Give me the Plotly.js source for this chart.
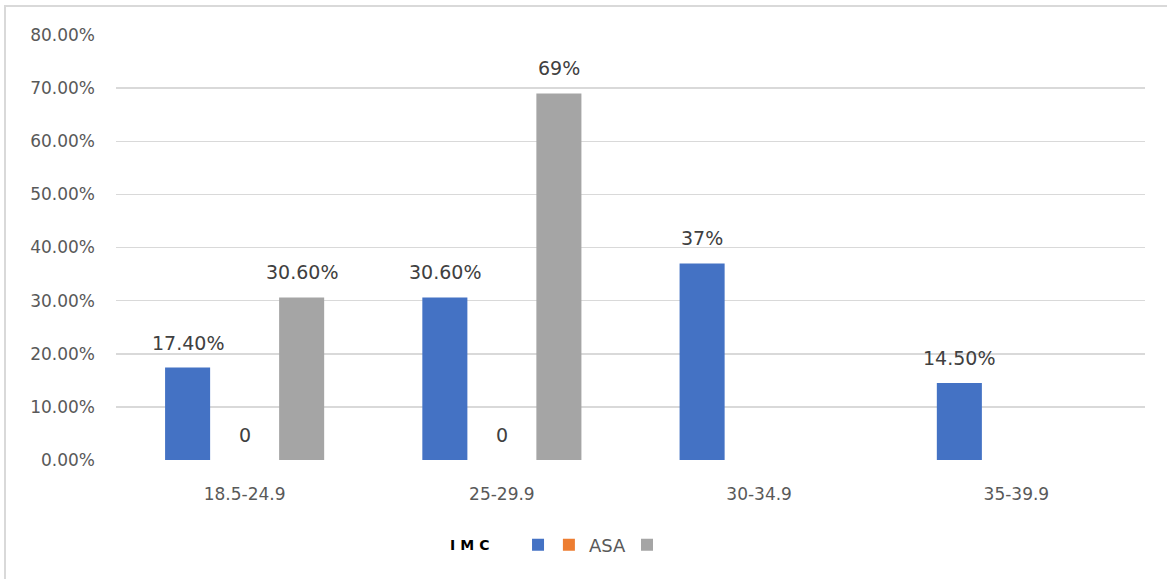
<!DOCTYPE html>
<html>
<head>
<meta charset="utf-8">
<script src="https://cdn.plot.ly/plotly-3.0.1.min.js"></script>
<style>
  html, body { margin: 0; padding: 0; background: #fff; }
  #wrap { position: relative; width: 1167px; height: 579px; }
  #chart { position: absolute; left: 0; top: 0; width: 1167px; height: 579px; }
  #frame { position: absolute; left: 4px; top: 5px; width: 1163px; height: 574px;
           border-left: 2px solid #d9d9d9; border-top: 2px solid #d9d9d9; box-sizing: border-box;
           pointer-events: none; }
</style>
</head>
<body>
<div id="wrap">
  <div id="chart"></div>
  <div id="frame"></div>
</div>
<script>
const categories = ["18.5-24.9", "25-29.9", "30-34.9", "35-39.9"];
const blueValues = [0.174, 0.306, 0.37, 0.145];
const blueLabels = ["17.40%", "30.60%", "37%", "14.50%"];
const asaValues = [0, 0, null, null];
const asaLabels = ["0", "0", "", ""];
const grayValues = [0.306, 0.69, null, null];
const grayLabels = ["30.60%", "69%", "", ""];
const yTicks = [0, 0.1, 0.2, 0.3, 0.4, 0.5, 0.6, 0.7, 0.8];
const legendTitle = "IMC";

const font = "'DejaVu Sans', sans-serif";
const labelFont = { family: font, size: 19, color: "#404040" };

const series = [
  { values: blueValues, labels: blueLabels, name: " ", color: "#4472c4", legend: "legend", shift: -57 },
  { values: asaValues, labels: asaLabels, name: "ASA", color: "#ed7d31", legend: "legend2", shift: 0 },
  { values: grayValues, labels: grayLabels, name: " ", color: "#a5a5a5", legend: "legend3", shift: 57 }
];

const traces = series.map(s => ({
  type: "bar", x: categories, y: s.values, name: s.name, legend: s.legend,
  marker: { color: s.color }, hoverinfo: "x+y"
}));

const annotations = [];
series.forEach(s => {
  s.values.forEach((v, i) => {
    if (v === null || v === undefined) return;
    annotations.push({
      x: categories[i], y: v, xref: "x", yref: "y", text: s.labels[i],
      showarrow: false, xanchor: "center", yanchor: "bottom",
      xshift: s.shift, yshift: 12, font: labelFont
    });
  });
});
annotations.push({
  x: 0.3455, y: -0.2, xref: "paper", yref: "paper",
  text: '<span style="letter-spacing:5px">' + legendTitle + '</span>', showarrow: false,
  xanchor: "center", yanchor: "middle",
  font: { family: "'DejaVu Sans'", size: 14, weight: "bold", color: "#000" }
});

const legendBase = {
  orientation: "h", y: -0.2, yanchor: "middle", xanchor: "left",
  font: { family: font, size: 18, color: "#595959" }, itemwidth: 30,
  bgcolor: "rgba(0,0,0,0)"
};

const layout = {
  width: 1167, height: 579,
  margin: { l: 116, r: 22, t: 35, b: 119 },
  paper_bgcolor: "#fff", plot_bgcolor: "#fff",
  barmode: "group", bargap: 0.335, bargroupgap: 0.21,
  font: { family: font, size: 17, color: "#595959" },
  xaxis: { type: "category", showgrid: false, zeroline: false, showline: false,
           ticks: "", ticklabelstandoff: 22, tickfont: { family: font, size: 17, color: "#595959" } },
  yaxis: { range: [0, 0.8], tickvals: yTicks, tickformat: ".2%",
           showgrid: true, gridcolor: "#d9d9d9", gridwidth: 1.5, zeroline: false,
           showline: false, ticks: "", ticklabelstandoff: 20,
           tickfont: { family: font, size: 17, color: "#595959" } },
  showlegend: true,
  legend: Object.assign({}, legendBase, { x: 0.3907 }),
  legend2: Object.assign({}, legendBase, { x: 0.4207 }),
  legend3: Object.assign({}, legendBase, { x: 0.4966 }),
  annotations: annotations
};

Plotly.newPlot("chart", traces, layout, { displayModeBar: false, staticPlot: true });
</script>
</body>
</html>
